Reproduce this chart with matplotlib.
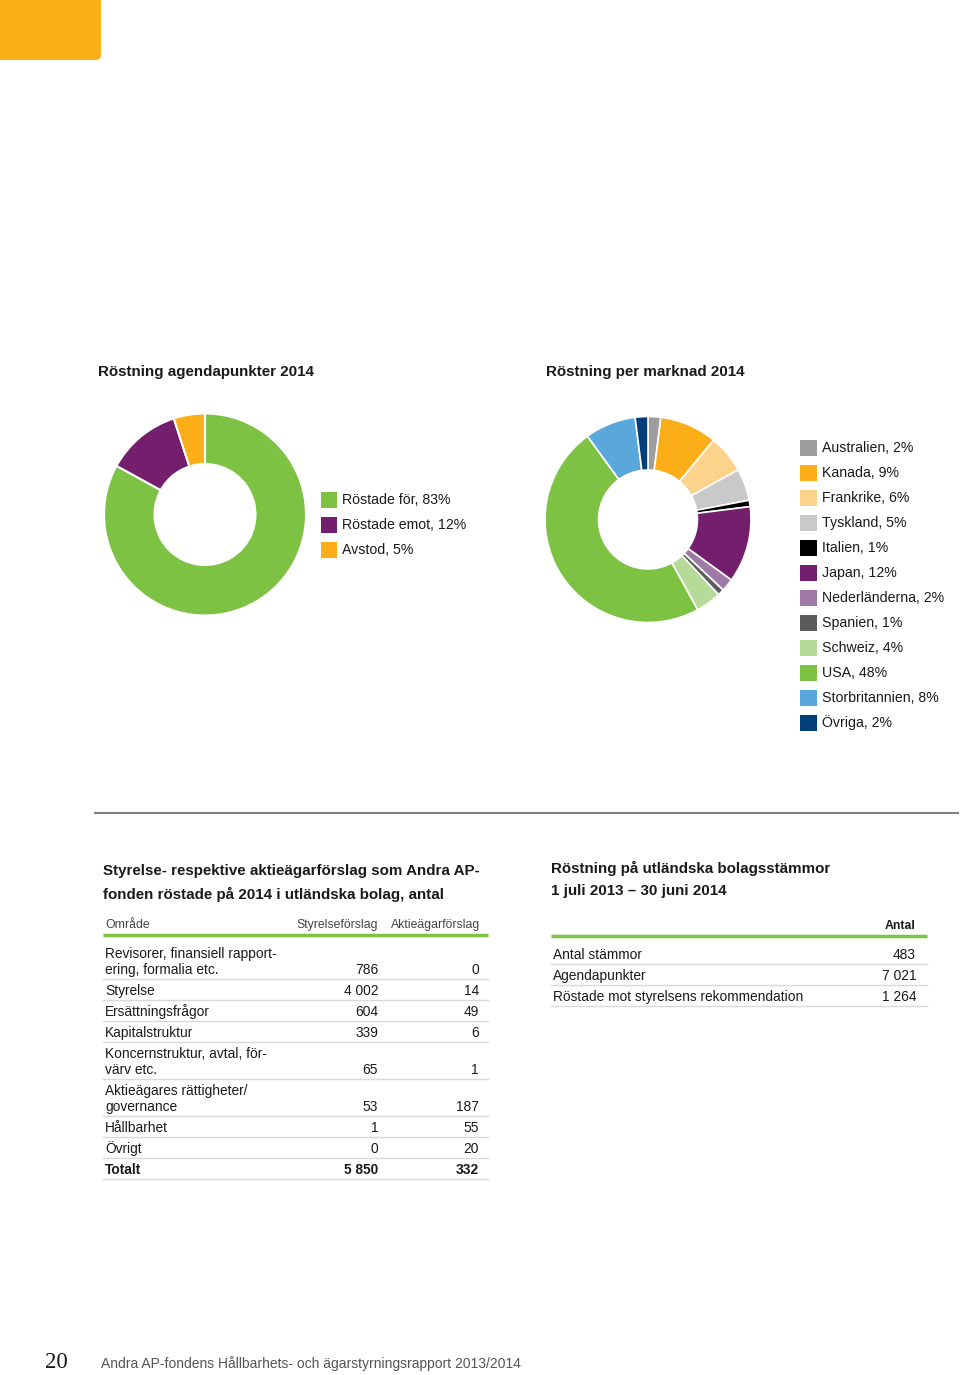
import matplotlib
matplotlib.use('Agg')
import matplotlib.pyplot as plt
from matplotlib.patches import Rectangle, FancyBboxPatch

plt.rcParams['font.family'] = ['Liberation Sans', 'DejaVu Sans']

# pie 1: agenda items
agenda_labels = ['Röstade för', 'Röstade emot', 'Avstod']
agenda_pct = [83, 12, 5]
agenda_colors = ['#7dc242', '#741f6e', '#fbae17']

# pie 2: per market
market_labels = ['Australien', 'Kanada', 'Frankrike', 'Tyskland', 'Italien', 'Japan',
                 'Nederländerna', 'Spanien', 'Schweiz', 'USA', 'Storbritannien', 'Övriga']
market_pct = [2, 9, 6, 5, 1, 12, 2, 1, 4, 48, 8, 2]
market_colors = ['#9d9d9d', '#fbae17', '#fdd38b', '#c9c9c9', '#000000', '#741f6e',
                 '#a07aa6', '#5b5b5b', '#b6da98', '#7dc242', '#5aa7dc', '#003f7a']

# table 1
area_names = ['Revisorer, finansiell rapport-\nering, formalia etc.', 'Styrelse', 'Ersättningsfrågor',
              'Kapitalstruktur', 'Koncernstruktur, avtal, för-\nvärv etc.',
              'Aktieägares rättigheter/\ngovernance', 'Hållbarhet', 'Övrigt']
board_props = [786, 4002, 604, 339, 65, 53, 1, 0]
holder_props = [0, 14, 49, 6, 1, 187, 55, 20]

# table 2
meeting_items = ['Antal stämmor', 'Agendapunkter', 'Röstade mot styrelsens rekommendation']
meeting_counts = [483, 7021, 1264]


def fmt(n):
    return f'{n:,}'.replace(',', ' ')


W, H = 960, 1375
fig = plt.figure(figsize=(W / 100, H / 100), dpi=100)


def pie_axes(cx, cy, r):
    ax = fig.add_axes([(cx - r) / W, (H - cy - r) / H, 2 * r / W, 2 * r / H])
    return ax


def fix_limits(ax):
    ax.set_xlim(-1, 1)
    ax.set_ylim(-1, 1)
    ax.axis('off')


ax1 = pie_axes(205, 514.5, 101)
ax1.pie(agenda_pct, colors=agenda_colors, startangle=90, counterclock=False, radius=1,
        wedgeprops=dict(width=0.5, edgecolor='white', linewidth=1.5))
fix_limits(ax1)

ax2 = pie_axes(648, 519.5, 103)
ax2.pie(market_pct, colors=market_colors, startangle=90, counterclock=False, radius=1,
        wedgeprops=dict(width=0.52, edgecolor='white', linewidth=1.2))
fix_limits(ax2)

# overlay in pixel coordinates for text and rules
ov = fig.add_axes([0, 0, 1, 1])
ov.set_xlim(0, W)
ov.set_ylim(H, 0)
ov.axis('off')
ov.patch.set_alpha(0)

ov.add_patch(FancyBboxPatch((-20, -20), 121, 80, boxstyle='round,pad=0,rounding_size=5',
                            fc='#fcaf19', ec='none'))

txt = '#1a1a1a'
tsize = 10.9
bsize = 9.9
ov.text(98, 372, 'Röstning agendapunkter 2014', fontsize=tsize, fontweight='bold', color=txt, va='center')
ov.text(546, 372, 'Röstning per marknad 2014', fontsize=tsize, fontweight='bold', color=txt, va='center')

# legends
for i, (lab, p, c) in enumerate(zip(agenda_labels, agenda_pct, agenda_colors)):
    y = 500 + 25 * i
    ov.add_patch(Rectangle((321, y - 8), 16, 16, fc=c, ec='none'))
    ov.text(342, y, f'{lab}, {p}%', fontsize=10.2, color=txt, va='center')

for i, (lab, p, c) in enumerate(zip(market_labels, market_pct, market_colors)):
    y = 448 + 25 * i
    ov.add_patch(Rectangle((800, y - 8), 17, 16, fc=c, ec='none'))
    ov.text(822, y, f'{lab}, {p}%', fontsize=10.2, color=txt, va='center')

# separator
ov.plot([95, 958], [813, 813], color='#808080', lw=1.5)

green = '#7dc242'
sep = '#d9d9d9'

# table 1
ov.text(103, 871, 'Styrelse- respektive aktieägarförslag som Andra AP-', fontsize=tsize,
        fontweight='bold', color=txt, va='center')
ov.text(103, 894, 'fonden röstade på 2014 i utländska bolag, antal', fontsize=tsize,
        fontweight='bold', color=txt, va='center')
ov.text(105, 925, 'Område', fontsize=8.8, color='#444444', va='center')
ov.text(378, 925, 'Styrelseförslag', fontsize=8.8, color='#444444', va='center', ha='right')
ov.text(480, 925, 'Aktieägarförslag', fontsize=8.8, color='#444444', va='center', ha='right')
ov.plot([103, 488], [935, 935], color=green, lw=2.5, solid_capstyle='butt')

y = 942
for name, b, h in zip(area_names, board_props, holder_props):
    nlines = name.count('\n') + 1
    rh = 21 + 16 * (nlines - 1)
    ybase = y + rh - 5
    ov.text(105, ybase, name, fontsize=bsize, color=txt, va='baseline', linespacing=1.21)
    ov.text(378, ybase, fmt(b), fontsize=bsize, color=txt, va='baseline', ha='right')
    ov.text(479, ybase, fmt(h), fontsize=bsize, color=txt, va='baseline', ha='right')
    y += rh
    ov.plot([103, 488], [y, y], color=sep, lw=1)
ybase = y + 16
ov.text(105, ybase, 'Totalt', fontsize=bsize, fontweight='bold', color=txt, va='baseline')
ov.text(378, ybase, fmt(sum(board_props)), fontsize=bsize, fontweight='bold', color=txt,
        va='baseline', ha='right')
ov.text(479, ybase, fmt(sum(holder_props)), fontsize=bsize, fontweight='bold', color=txt,
        va='baseline', ha='right')
ov.plot([103, 488], [y + 21, y + 21], color=sep, lw=1)

# table 2
ov.text(551, 868, 'Röstning på utländska bolagsstämmor', fontsize=tsize, fontweight='bold',
        color=txt, va='center')
ov.text(551, 891, '1 juli 2013 – 30 juni 2014', fontsize=tsize, fontweight='bold',
        color=txt, va='center')
ov.text(916, 926, 'Antal', fontsize=8.8, fontweight='bold', color=txt, va='center', ha='right')
ov.plot([551, 927], [936, 936], color=green, lw=2.5, solid_capstyle='butt')
y = 943
for name, n in zip(meeting_items, meeting_counts):
    ov.text(553, y + 16, name, fontsize=bsize, color=txt, va='baseline')
    ov.text(916, y + 16, fmt(n), fontsize=bsize, color=txt, va='baseline', ha='right')
    y += 21
    ov.plot([551, 927], [y, y], color=sep, lw=1)

# footer
ov.text(45, 1362, '20', fontsize=16.5, family='Liberation Serif', color=txt, va='center')
ov.text(101, 1364, 'Andra AP-fondens Hållbarhets- och ägarstyrningsrapport 2013/2014',
        fontsize=10, color='#555555', va='center')

fig.savefig('out.png', dpi=100)
